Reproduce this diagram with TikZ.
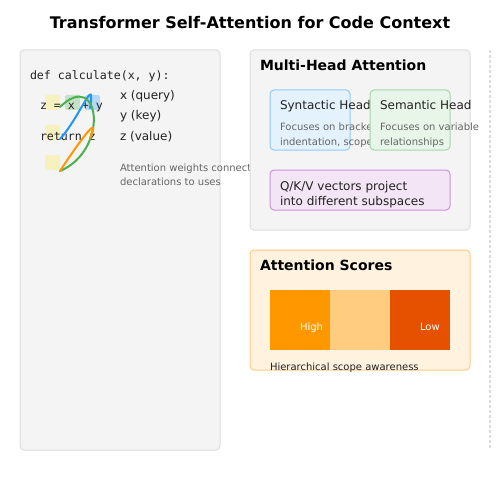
\documentclass[tikz,border=0pt]{standalone}
\usepackage{fontspec}
\setmainfont{DejaVu Sans}
\setmonofont{DejaVu Sans Mono}
\definecolor{panelfill}{HTML}{F4F4F4}
\definecolor{paneldraw}{HTML}{DDDDDD}
\definecolor{txt}{HTML}{222222}
\definecolor{graytxt}{HTML}{666666}
\definecolor{hlyel}{HTML}{F6F1BF}
\definecolor{hlgreen}{HTML}{C5E1C6}
\definecolor{hlblue}{HTML}{B5D8F6}
\definecolor{cblue}{HTML}{2196F3}
\definecolor{cgreen}{HTML}{4CAF50}
\definecolor{corange}{HTML}{FF9800}
\definecolor{synfill}{HTML}{E3F2FD}
\definecolor{syndraw}{HTML}{90CAF9}
\definecolor{semfill}{HTML}{E8F5E9}
\definecolor{semdraw}{HTML}{A5D6A7}
\definecolor{qkvfill}{HTML}{F3E5F5}
\definecolor{qkvdraw}{HTML}{CE93D8}
\definecolor{scorefill}{HTML}{FFF3E0}
\definecolor{scoredraw}{HTML}{FFCC80}
\definecolor{barA}{HTML}{FF9800}
\definecolor{barB}{HTML}{FFCC80}
\definecolor{barC}{HTML}{E65100}
\definecolor{dashcol}{HTML}{DDDDDD}
\tikzset{
  boxstyle/.style={rounded corners=4pt, line width=1pt, anchor=north west, inner sep=0pt, outer sep=0pt},
  panelbox/.style={boxstyle, draw=paneldraw, fill=panelfill},
  hlbox/.style={anchor=north west, inner sep=0pt, outer sep=0pt, minimum size=15pt, rounded corners=1.5pt},
  barbox/.style={anchor=north west, inner sep=0pt, outer sep=0pt, minimum width=60pt, minimum height=60pt},
  lbl/.style={anchor=base west, inner sep=0pt, outer sep=0pt, text=txt},
  codetxt/.style={lbl, font=\ttfamily\fontsize{11.6}{14}\selectfont},
  normtxt/.style={lbl, font=\fontsize{12}{14}\selectfont},
  smalltxt/.style={lbl, font=\fontsize{10}{12}\selectfont, text=graytxt},
  headtxt/.style={lbl, font=\bfseries\fontsize{14}{16}\selectfont, text=black},
  arc/.style={line width=2pt, line cap=round}
}
\begin{document}
\begin{tikzpicture}[x=1pt,y=-1pt]
\useasboundingbox (0,0) rectangle (500,500);
% title
\node[font=\bfseries\fontsize{16}{18}\selectfont, anchor=base, inner sep=0pt] (title) at (250,29) {Transformer Self-Attention for Code Context};
% left panel
\node[panelbox, minimum width=200pt, minimum height=400pt] (left) at (20,50) {};
\node[codetxt] (def) at (30,80) {def calculate(x, y):};
\node[hlbox, fill=hlyel] (h1) at (45,95) {};
\node[hlbox, fill=hlgreen] (h2) at (65,95) {};
\node[hlbox, fill=hlblue] (h3) at (85,95) {};
\node[hlbox, fill=hlyel] (h4) at (45,125) {};
\node[hlbox, fill=hlyel] (h5) at (45,155) {};
\node[codetxt] (line1) at (40,110) {z = x + y};
\node[codetxt] (line2) at (40,140) {return z};
\coordinate (bs) at (60,139);
\coordinate (be) at (90,108);
\coordinate (gs) at (60,107);
\coordinate (ge) at (60,171);
\coordinate (os) at (60,171);
\coordinate (oe) at (90,138);
\draw[arc, cblue] (bs) .. controls (80,117) and (96,72) .. (be);
\draw[arc, cgreen] (gs) .. controls (100,68) and (110,150) .. (ge);
\draw[arc, corange] (os) .. controls (77,145) and (102,110) .. (oe);
\node[normtxt] (xq) at (120,100) {x (query)};
\node[normtxt] (yk) at (120,120) {y (key)};
\node[normtxt] (zv) at (120,140) {z (value)};
\node[smalltxt] (note1) at (120,171) {Attention weights connect};
\node[smalltxt] (note2) at (120,185) {declarations to uses};
% multi-head panel
\node[panelbox, minimum width=220pt, minimum height=180pt] (mha) at (250,50) {};
\node[headtxt] (mhat) at (260,71) {Multi-Head Attention};
\node[boxstyle, draw=syndraw, fill=synfill, minimum width=80pt, minimum height=60pt] (syn) at (270,90) {};
\node[normtxt] (synt) at (280,110) {Syntactic Head};
\node[smalltxt] (syn1) at (280,130) {Focuses on brackets,};
\node[smalltxt] (syn2) at (280,145) {indentation, scope};
\node[boxstyle, draw=semdraw, fill=semfill, minimum width=80pt, minimum height=60pt] (sem) at (370,90) {};
\node[normtxt] (semt) at (380,110) {Semantic Head};
\node[smalltxt] (sem1) at (380,130) {Focuses on variable};
\node[smalltxt] (sem2) at (380,145) {relationships};
\node[boxstyle, draw=qkvdraw, fill=qkvfill, minimum width=180pt, minimum height=40pt] (qkv) at (270,170) {};
\node[normtxt] (qkv1) at (280,190) {Q/K/V vectors project};
\node[normtxt] (qkv2) at (280,205) {into different subspaces};
% attention scores
\node[boxstyle, draw=scoredraw, fill=scorefill, minimum width=220pt, minimum height=120pt] (sc) at (250,250) {};
\node[headtxt] (sct) at (260,270) {Attention Scores};
\node[barbox, fill=barA] (b1) at (270,290) {};
\node[barbox, fill=barB] (b2) at (330,290) {};
\node[barbox, fill=barC] (b3) at (390,290) {};
\node[smalltxt, text=white] (hi) at (300,330) {High};
\node[smalltxt, text=white] (lo) at (420,330) {Low};
\node[smalltxt, text=txt] (hier) at (270,370) {Hierarchical scope awareness};
% dashed divider
\coordinate (d1) at (490,50);
\coordinate (d2) at (490,450);
\draw[dashcol, line width=1.5pt, dash pattern=on 3pt off 2pt] (d1) -- (d2);
\end{tikzpicture}
\end{document}
